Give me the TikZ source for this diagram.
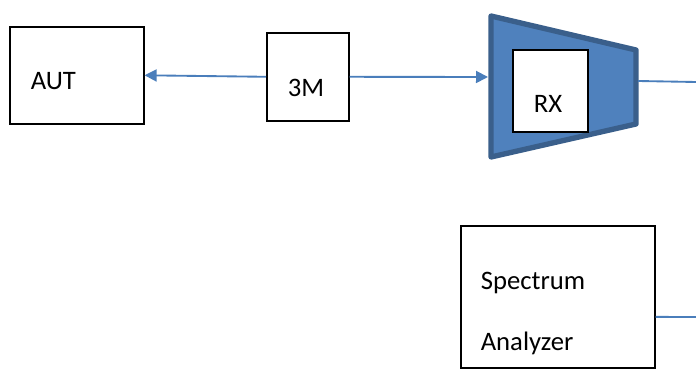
\documentclass[tikz,border=0pt]{standalone}
\usepackage{fontspec}
\setmainfont{Carlito}
\usepackage{xcolor}
\usetikzlibrary{calc,arrows.meta,positioning}
\definecolor{mblue}{HTML}{4F81BD}
\definecolor{mdblue}{HTML}{3A5F8B}
\definecolor{mline}{HTML}{4A7EBB}
\tikzstyle{l1}=[line width=1.2pt]
\tikzstyle{box}=[rectangle, draw=black, l1, fill=white, anchor=north west, inner xsep=15.75pt, inner ysep=0pt, align=left, font=\fontsize{20}{24}\selectfont]
\tikzstyle{link}=[draw=mline, line width=1.4pt]
\tikzstyle{tip}=[-{Triangle[length=9pt,width=9pt]}]

\begin{document}
\begin{tikzpicture}[x=0.75pt, y=-0.75pt]
    \useasboundingbox (0,0) rectangle (696,377);

    \node (aut) [box, text width=69pt, text height=47.25pt, text depth=25.5pt] at (9,26) {AUT};
    \node (tm) [box, text width=30pt, text height=48pt, text depth=18pt] at (266,32) {3M};

    % receiver block
    \path[fill=mblue, draw=mdblue, line width=4pt, line join=round]
        (491,16) -- (636,50) -- (636,124) -- (491,157) -- cycle;
    \node (rx) [box, text width=24.75pt, text height=47.25pt, text depth=14.25pt] at (512,49) {RX};
    \coordinate (rxin) at (488,77);
    \coordinate (rxout) at (638,81);
    \coordinate (e1) at (696,82);

    \node (sa) [box, inner xsep=15pt, text width=115.5pt, text height=48pt, text depth=58.5pt] at (460,225) {Spectrum\\[21.75pt]Analyzer};
    \coordinate (saout) at ($(sa.north east)!0.64!(sa.south east)$);
    \coordinate (e2) at (696,317);

    \draw[link, tip] (tm.west) -- (aut.east);
    \draw[link, tip] (tm.east) -- (rxin);
    \draw[link] (rxout) -- (e1);
    \draw[link] (saout) -- (e2);

\end{tikzpicture}
\end{document}
